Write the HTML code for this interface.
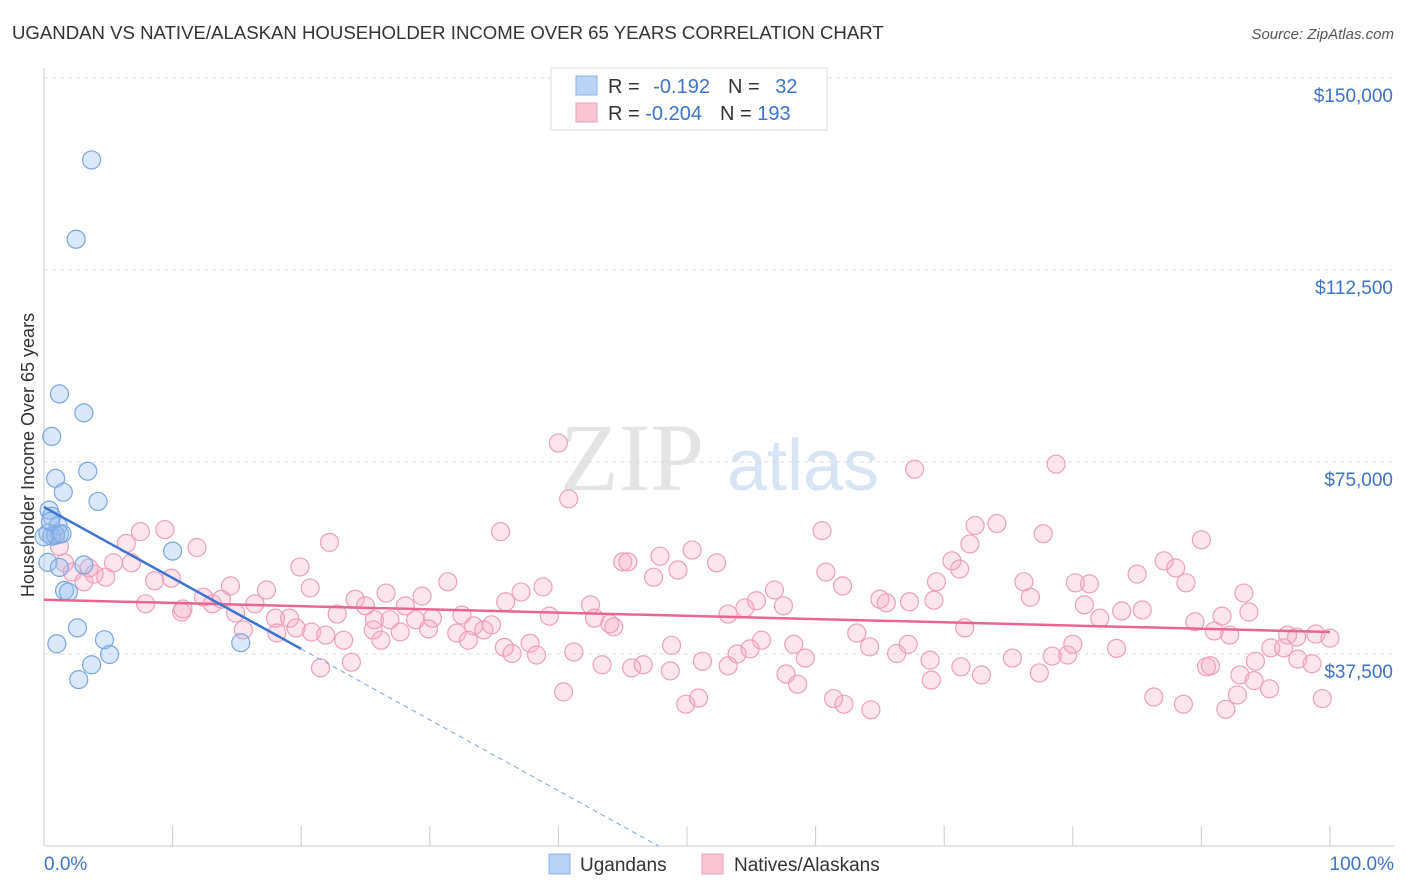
<!DOCTYPE html>
<html><head><meta charset="utf-8"><style>
body{margin:0;background:#fff;font-family:"Liberation Sans",sans-serif}
svg{display:block}
</style></head><body>
<svg id="chart" width="1406" height="892">
<text x="12" y="39" font-size="18.6" fill="#333">UGANDAN VS NATIVE/ALASKAN HOUSEHOLDER INCOME OVER 65 YEARS CORRELATION CHART</text>
<text x="1394" y="39" font-size="15" fill="#555" font-style="italic" text-anchor="end">Source: ZipAtlas.com</text>
<g>
<text x="632" y="490" font-size="96" fill="#e4e4e4" font-family="Liberation Serif,serif" text-anchor="middle">ZIP</text>
<text x="803" y="490" font-size="72" fill="#d6e4f3" text-anchor="middle">atlas</text>
</g>
<g id="grid"></g>
<g id="axes"></g>
<text transform="translate(34,455) rotate(-90)" font-size="18" fill="#333" text-anchor="middle">Householder Income Over 65 years</text>
<g id="marks"></g>
<g>
<rect x="551" y="68" width="276" height="62" fill="#fff" stroke="#ddd"/>
<rect x="576" y="76" width="21" height="19" fill="#b8d3f5" stroke="#8ab3e8"/>
<rect x="576" y="103" width="21" height="19" fill="#f9c5d5" stroke="#f0a0b8"/>
<text x="608" y="93" font-size="20" fill="#333">R = <tspan fill="#3d73c8" dx="8">-0.192</tspan><tspan dx="18" fill="#333">N = </tspan><tspan fill="#3d73c8" dx="10">32</tspan></text>
<text x="608" y="120" font-size="20" fill="#333">R = <tspan fill="#3d73c8">-0.204</tspan><tspan dx="18" fill="#333">N = </tspan><tspan fill="#3d73c8">193</tspan></text>
</g>
<g>
<rect x="549" y="854" width="21" height="20" fill="#b8d3f5" stroke="#8ab3e8"/>
<text x="580" y="871" font-size="19" fill="#333">Ugandans</text>
<rect x="702" y="854" width="21" height="20" fill="#f9c5d5" stroke="#f0a0b8"/>
<text x="734" y="871" font-size="19" fill="#333">Natives/Alaskans</text>
</g>
</svg>
<script>
const yTicks=[37500,75000,112500,150000];
const yTickLabels=["$37,500","$75,000","$112,500","$150,000"];
const xTickLabels=["0.0%","100.0%"];
const ugX=[3.7,2.5,1.2,3.1,0.6,3.4,0.9,1.5,4.2,0.4,0.6,1.1,0.3,1.2,0.6,0.9,10.0,0.3,3.1,1.2,1.6,1.9,2.6,1.0,4.7,5.1,3.7,2.7,15.3,0.0,0.5,1.4];
const ugY=[134000,118500,88300,84600,80000,73200,71800,69100,67300,65600,64400,62500,61100,60900,60500,60700,57600,55400,54900,54400,49900,49600,42600,39500,40300,37400,35400,32500,39700,60400,63400,61000];
const naX=[40.0,40.8,67.7,78.7,35.5,60.5,72.4,74.1,77.7,90.0,7.5,9.4,6.4,22.2,11.9,1.2,0.9,1.6,2.2,3.1,3.9,4.8,5.4,6.8,3.5,8.6,9.9,7.9,10.7,12.4,13.1,13.8,14.9,16.4,17.3,18.0,19.1,19.9,20.7,22.8,24.2,25.0,25.7,26.6,26.9,28.1,28.9,29.4,30.2,31.4,32.5,33.4,34.2,34.8,35.9,37.1,38.8,39.3,42.5,42.8,44.0,44.3,45.0,45.4,47.4,47.9,49.3,50.4,52.3,53.2,54.5,55.4,56.8,57.5,60.8,62.1,65.0,65.5,67.3,69.4,69.2,70.6,71.2,72.0,76.2,76.7,80.2,81.3,80.9,82.1,83.8,85.0,85.4,87.1,88.0,88.8,91.6,93.3,93.7,89.5,91.0,92.2,96.7,97.4,98.9,100.0,10.8,14.5,15.5,18.1,19.6,20.8,21.9,23.3,25.6,26.2,27.7,29.9,32.1,33.0,35.8,36.4,37.8,38.3,41.2,43.4,48.8,51.2,54.9,55.8,58.3,59.2,63.2,64.2,66.3,67.2,68.9,71.3,71.6,75.3,77.4,78.4,79.6,80.0,83.4,90.4,90.7,93.0,94.2,95.4,96.4,97.5,98.6,94.1,21.5,23.9,45.7,46.6,48.7,53.2,53.9,57.7,58.6,61.4,62.2,69.0,72.9,88.6,99.4,40.4,49.9,50.9,64.3,86.3,91.9,95.3,92.8];
const naY=[78700,67800,73600,74600,61400,61600,62600,63000,61000,59800,61400,61800,59100,59300,58300,58500,60900,55300,53500,51600,53100,52500,55300,55300,54300,51800,52300,47300,45700,48600,47300,48200,45500,47300,50000,44500,44500,54500,50400,45300,48200,46900,44200,49400,44200,46900,44200,48800,44500,51600,45100,43000,42200,43200,47700,49600,50600,44900,47100,44500,43400,42800,55500,55500,52500,56600,53900,57800,55300,45300,46500,47900,50000,46900,53500,50800,48200,47500,47700,51600,48000,55700,54100,59000,51600,48600,51400,51200,47100,44500,45900,53100,46100,55700,54300,51400,44900,49400,45700,43800,42000,41200,41200,40800,41400,40600,46300,50800,42200,41600,42600,41800,41200,40200,42200,40200,41800,42400,41600,40200,38800,37600,39600,37300,37900,35400,39200,36100,38500,40200,39400,36700,41600,38900,37600,39400,36300,35000,42600,36700,33800,37100,37300,39400,38600,35000,35200,33400,36100,38700,38700,36500,35600,32300,34800,35900,34800,35400,34200,35200,37500,33600,31600,28800,27700,32400,33400,27700,28800,30100,27700,28900,26600,29100,26700,30700,29500,26600,20200,23000,23800,21600,37300,35600,34800,37900];
const ugTrend=[66200,38500];
const naTrend=[48100,41800];
const svgNS="http://www.w3.org/2000/svg";
const X0=44,X1=1330,YB=846,PPV=192/37500;
const sx=p=>X0+p/100*(X1-X0);
const sy=v=>YB-v*PPV;
function mk(tag,attrs,parent){const e=document.createElementNS(svgNS,tag);for(const k in attrs)e.setAttribute(k,attrs[k]);parent.appendChild(e);return e;}
const grid=document.getElementById('grid'),axes=document.getElementById('axes'),marks=document.getElementById('marks');
yTicks.forEach((t,i)=>{
 const l=mk('line',{x1:X0,x2:1394,y1:sy(t),y2:sy(t),stroke:'#ddd','stroke-dasharray':'4,4'},grid);
 
 
 const tx=mk('text',{x:1393,y:sy(t)+24,'font-size':19,fill:'#3d73c8','text-anchor':'end'},axes);
 tx.textContent=yTickLabels[i];
 
 
});
mk('line',{x1:X0,x2:X0,y1:68,y2:YB,stroke:'#ccc'},axes);
mk('line',{x1:X0,x2:1394,y1:YB,y2:YB,stroke:'#ccc'},axes);
for(let i=0;i<=10;i++){const t=mk('line',{x1:sx(i*10),x2:sx(i*10),y1:YB,y2:826,stroke:'#ccc'},axes);
 
 }
const xl0=mk('text',{x:44,y:870,'font-size':19,fill:'#3d73c8'},axes);xl0.textContent=xTickLabels[0];


const xl1=mk('text',{x:1394,y:870,'font-size':19,fill:'#3d73c8','text-anchor':'end'},axes);xl1.textContent=xTickLabels[1];


naX.forEach((x,i)=>{const c=mk('circle',{cx:sx(x),cy:sy(naY[i]),r:9,fill:'rgba(246,170,195,0.3)',stroke:'#eea0ba','stroke-width':1.2},marks);
 
 });
ugX.forEach((x,i)=>{const c=mk('circle',{cx:sx(x),cy:sy(ugY[i]),r:9,fill:'rgba(150,190,240,0.35)',stroke:'#7aa7e0','stroke-width':1.2},marks);
 
 });
const slope=(ugTrend[1]-ugTrend[0])/20;
const nt=mk('line',{x1:sx(0),y1:sy(naTrend[0]),x2:sx(100),y2:sy(naTrend[1]),stroke:'#e8668f','stroke-width':2.5},marks);


const ut=mk('line',{x1:sx(0),y1:sy(ugTrend[0]),x2:sx(20),y2:sy(ugTrend[1]),stroke:'#3f73d0','stroke-width':2.5},marks);


const xe=-ugTrend[0]/slope;
const ud=mk('line',{x1:sx(20),y1:sy(ugTrend[1]),x2:sx(xe),y2:sy(0),stroke:'#7aa7e0','stroke-width':1,'stroke-dasharray':'5,4'},marks);


</script>
</body></html>
